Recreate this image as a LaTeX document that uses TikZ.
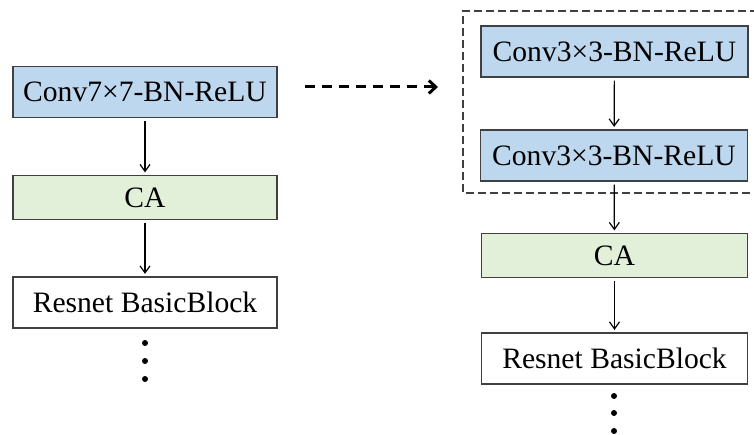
\documentclass[tikz,border=0pt]{standalone}
\usepackage{fontspec}
\setmainfont{Liberation Serif}
\usepackage{xcolor}
\usepackage{tikz}
\usetikzlibrary{arrows.meta}
\definecolor{convblue}{HTML}{BDD7EE}
\definecolor{cagreen}{HTML}{E2F0D9}
\definecolor{edgegray}{HTML}{404040}

\begin{document}
\begin{tikzpicture}[x=1pt,y=-1pt,
  every node/.style={font=\fontsize{29.6}{34}\selectfont},
  blk/.style={draw=edgegray,line width=1.2pt,inner sep=0pt,minimum height=51pt},
  conv/.style={blk,fill=convblue},
  attn/.style={blk,fill=cagreen,minimum height=44pt},
  plain/.style={blk,fill=white},
  flow/.style={-{Straight Barb[length=7pt,width=10pt]},line width=1.2pt,
    shorten <=3pt,shorten >=2.5pt}]
  \useasboundingbox (0,0) rectangle (754,435);
  \clip (0,0) rectangle (754,435);
  % left column
  \node[conv,minimum width=264pt] (conv7) at (145,92) {Conv7×7-BN-ReLU};
  \node[attn,minimum width=264pt] (caL) at (145,197.5) {CA};
  \node[plain,minimum width=264pt] (resL) at (145,302.5) {Resnet BasicBlock};
  \draw[flow] (conv7) -- (caL);
  \draw[flow] (caL) -- (resL);
  \foreach \y in {343,361,379}
    \fill (145,\y) circle[radius=3pt];
  % replacement
  \coordinate (repS) at (305,87);
  \coordinate (repE) at (438,87);
  \draw[-{Straight Barb[length=7pt,width=13pt]},line width=3pt,
    dash pattern=on 10pt off 7pt] (repS) -- (repE);
  \draw[edgegray,line width=1.2pt,dash pattern=on 8pt off 4pt]
    (770,11) -| (463,193) -- (770,193);
  % right column
  \node[conv,minimum width=267pt] (c1) at (614.5,51.5) {Conv3×3-BN-ReLU};
  \node[conv,minimum width=267pt] (c2) at (614,155.5) {Conv3×3-BN-ReLU};
  \node[attn,minimum width=266pt] (caR) at (614.5,255.5) {CA};
  \node[plain,minimum width=266pt] (resR) at (614.5,358.5) {Resnet BasicBlock};
  \draw[flow] (c1) -- (c2);
  \draw[flow] (c2) -- (caR);
  \draw[flow] (caR) -- (resR);
  \foreach \y in {396,413,431}
    \fill (614,\y) circle[radius=3pt];
\end{tikzpicture}
\end{document}
